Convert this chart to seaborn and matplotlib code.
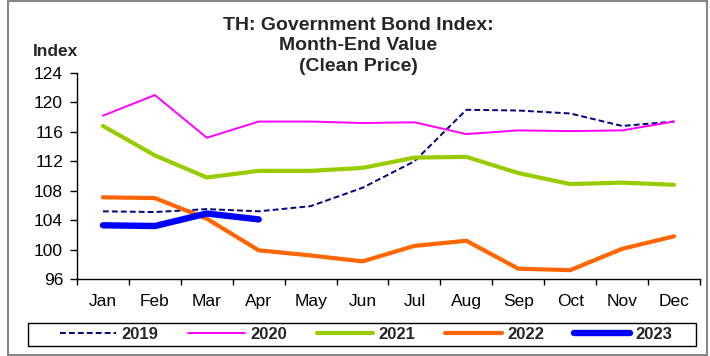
import numpy as np
import pandas as pd
import matplotlib
matplotlib.use("Agg")
import matplotlib.pyplot as plt
import seaborn as sns
from matplotlib.patches import Rectangle

months = ["Jan", "Feb", "Mar", "Apr", "May", "Jun", "Jul", "Aug", "Sep", "Oct", "Nov", "Dec"]
y2019 = [105.2, 105.1, 105.5, 105.2, 105.9, 108.4, 112.0, 119.0, 118.9, 118.5, 116.8, 117.4]
y2020 = [118.2, 121.0, 115.2, 117.4, 117.4, 117.2, 117.3, 115.7, 116.2, 116.1, 116.2, 117.4]
y2021 = [116.8, 112.8, 109.8, 110.7, 110.7, 111.1, 112.5, 112.6, 110.4, 108.9, 109.1, 108.8]
y2022 = [107.1, 107.0, 104.2, 99.9, 99.2, 98.4, 100.5, 101.2, 97.4, 97.2, 100.1, 101.8]
y2023 = [103.3, 103.2, 104.9, 104.1]
yticks = [96, 100, 104, 108, 112, 116, 120, 124]

series = {"2019": y2019, "2020": y2020, "2021": y2021, "2022": y2022, "2023": y2023}
styles = {
    "2019": dict(color="#000080", lw=1.4, ls=(0, (3.0, 1.6))),
    "2020": dict(color="#ff00ff", lw=1.4, ls="-"),
    "2021": dict(color="#99cc00", lw=3.0, ls="-"),
    "2022": dict(color="#ff6600", lw=3.0, ls="-"),
    "2023": dict(color="#0000ff", lw=4.6, ls="-"),
}

sns.set_theme(style="ticks")
plt.rcParams["font.family"] = ["Liberation Sans", "DejaVu Sans"]

fig = plt.figure(figsize=(7.1, 3.56), dpi=100)
ax = fig.add_axes([77 / 710, 1 - 279 / 356, 623 / 710, 206 / 356])

for name, vals in series.items():
    d = pd.DataFrame({"x": np.arange(len(vals)), "y": vals})
    st = styles[name]
    sns.lineplot(data=d, x="x", y="y", ax=ax, color=st["color"], linewidth=st["lw"],
                 linestyle=st["ls"], label=name, solid_capstyle="round", dash_capstyle="butt")

ax.set_xlim(-0.5, 11.5)
ax.set_ylim(96, 124)
ax.set_yticks(yticks)
ax.set_xticks(np.arange(12))
ax.set_xticklabels(months)
ax.set_xticks(np.arange(-0.5, 12, 1), minor=True)
ax.tick_params(axis="x", which="major", length=0, pad=11, labelsize=12.5, colors="black")
ax.tick_params(axis="x", which="minor", length=4, width=1, color="black")
ax.tick_params(axis="y", length=5, width=1, pad=5, labelsize=12.5, colors="black")
ax.set_xlabel("")
ax.set_ylabel("")
for s in ["top", "right"]:
    ax.spines[s].set_visible(False)
for s in ["left", "bottom"]:
    ax.spines[s].set_color("black")
    ax.spines[s].set_linewidth(1)

# title block: middle line centred near y=47 px
fig.text(358 / 710, 1 - 46 / 356, "TH: Government Bond Index:\nMonth-End Value\n(Clean Price)",
         ha="center", va="center", fontsize=14, fontweight="bold", linespacing=1.25)
fig.text(33 / 710, 1 - 52 / 356, "Index", ha="left", va="center", fontsize=12.5, fontweight="bold")

leg = ax.legend(loc="center", bbox_to_anchor=(366 / 710, 1 - 334.5 / 356),
                bbox_transform=fig.transFigure, ncol=5, frameon=False,
                handlelength=3.4, columnspacing=1.8, handletextpad=0.3,
                prop={"weight": "bold", "size": 12})

fig.patches.append(Rectangle((28 / 710, 1 - 346 / 356), 668 / 710, 23 / 356, transform=fig.transFigure,
                             fill=False, edgecolor="black", linewidth=1))
fig.patches.append(Rectangle((8 / 710, 0.003), 0.985, 0.994, transform=fig.transFigure,
                             fill=False, edgecolor="#888888", linewidth=1.5))

fig.savefig("out.png", dpi=100)
